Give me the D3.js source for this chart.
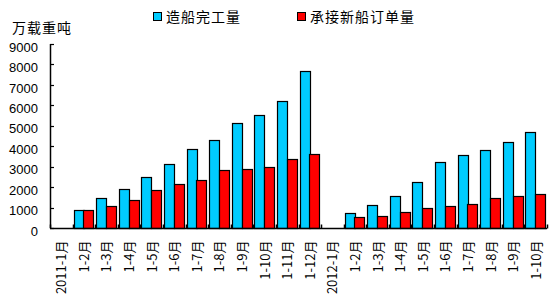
<!DOCTYPE html>
<html><head><meta charset="utf-8">
<script src="https://cdn.jsdelivr.net/npm/d3@7"></script>
<style>
html,body{margin:0;padding:0;background:#fff;}
svg{display:block;}
text{fill:#000;}
</style></head>
<body>
<script>
const categories = ["2011-1月","1-2月","1-3月","1-4月","1-5月","1-6月","1-7月","1-8月","1-9月","1-10月","1-11月","1-12月",
  "2012-1月","1-2月","1-3月","1-4月","1-5月","1-6月","1-7月","1-8月","1-9月","1-10月"];
const seriesNames = ["造船完工量","承接新船订单量"];
const seriesColors = ["#00CCFF","#FF0000"];
const completed = [null,870,1455,1890,2480,3110,3850,4290,5120,5510,6210,7680,
  null,720,1110,1550,2235,3210,3555,3800,4190,4680];
const newOrders = [null,870,1060,1355,1845,2135,2330,2820,2900,2965,3360,3620,
  null,520,570,765,960,1060,1160,1450,1550,1645];
const yTicks = [0,1000,2000,3000,4000,5000,6000,7000,8000,9000];
const yTitle = "万载重吨";

const W = 553, H = 308;
const m = {left:50, right:6, top:44, bottom:80};
const svg = d3.select("body").append("svg").attr("width",W).attr("height",H);

const x = d3.scaleBand().domain(d3.range(categories.length)).range([m.left, W-m.right]).padding(0);
const y = d3.scaleLinear().domain([0,9000]).range([H-m.bottom, m.top]);
const inner = d3.scaleBand().domain([0,1]).range([1, x.bandwidth()-2]).padding(0);

const series = [completed, newOrders];
const g = svg.append("g");
series.forEach((vals, si) => {
  g.selectAll(null).data(vals.map((v,i)=>({v,i})).filter(d=>d.v!=null)).enter()
    .append("rect")
    .attr("x", d => Math.round(x(d.i)+inner(si)) + 0.5)
    .attr("y", d => Math.round(y(d.v)) + 0.5)
    .attr("width", Math.round(inner.bandwidth()))
    .attr("height", d => Math.round(y(0)) - Math.round(y(d.v)))
    .attr("fill", seriesColors[si])
    .attr("stroke", "#000").attr("stroke-width", 1.2);
});

// y axis
const yAxis = d3.axisLeft(y).tickValues(yTicks).tickSize(0).tickPadding(12).tickFormat(d3.format("d"));
const ya = svg.append("g").attr("transform",`translate(${m.left},0)`).call(yAxis);
ya.select(".domain").remove();
ya.selectAll("text").attr("font-family","'Liberation Sans', Arial, sans-serif").attr("font-size","13px")
  .attr("fill","#000").attr("dy","0.55em");
svg.append("line").attr("x1",m.left+0.5).attr("x2",m.left+0.5).attr("y1",y(9000)).attr("y2",y(0))
  .attr("stroke","#000").attr("stroke-width",1.5);
svg.selectAll(".ytk").data(yTicks).enter().append("line")
  .attr("x1",m.left).attr("x2",m.left+4).attr("y1",d=>Math.round(y(d))+0.5).attr("y2",d=>Math.round(y(d))+0.5)
  .attr("stroke","#000").attr("stroke-width",1.2);

// x axis
const y0 = Math.round(y(0))+0.5;
svg.append("line").attr("x1",m.left).attr("x2",W-m.right).attr("y1",y0).attr("y2",y0).attr("stroke","#000").attr("stroke-width",1.5);
const bounds = d3.range(categories.length+1).map(i => i<categories.length ? x(i) : x(categories.length-1)+x.bandwidth());
svg.selectAll(".xtk").data(bounds).enter().append("line")
  .attr("x1",d=>Math.round(d)+0.5).attr("x2",d=>Math.round(d)+0.5).attr("y1",y0-4).attr("y2",y0)
  .attr("stroke","#000").attr("stroke-width",1.5);
svg.selectAll(".xl").data(categories).enter().append("text")
  .attr("transform",(d,i)=>`translate(${x(i)+x.bandwidth()/2+5},${y0+12}) rotate(-90)`)
  .attr("text-anchor","end")
  .attr("font-family","'Noto Sans CJK SC', sans-serif").attr("font-size","13px")
  .text(d=>d);

// y title
svg.append("text").attr("x",12).attr("y",33).attr("font-family","'Noto Sans CJK SC', sans-serif")
  .attr("font-size","14px").attr("letter-spacing","1px").text(yTitle);

// legend
const legX = [153, 297];
seriesNames.forEach((n,i)=>{
  svg.append("rect").attr("x",legX[i]+0.5).attr("y",12.5).attr("width",8).attr("height",8)
    .attr("fill",seriesColors[i]).attr("stroke","#000").attr("stroke-width",1);
  svg.append("text").attr("x",legX[i]+13).attr("y",21.5).attr("font-family","'Noto Sans CJK SC', sans-serif")
    .attr("font-size","14px").attr("letter-spacing","1px").text(n);
});
</script>
</body></html>
